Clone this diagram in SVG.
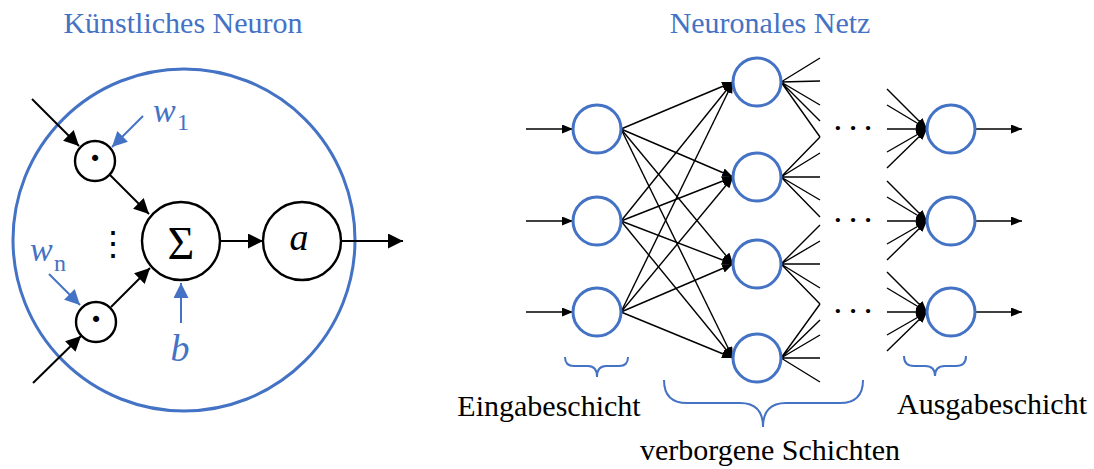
<svg xmlns="http://www.w3.org/2000/svg" width="1094" height="469" viewBox="0 0 1094 469">
<style>
.blue{fill:none;stroke:#4472C4;stroke-width:3}
.w{fill:#fff;stroke:#4472C4;stroke-width:3}
.bw{fill:#fff;stroke:#000;stroke-width:2.4}
.c{stroke:#000;stroke-width:1.4;fill:none}
.cb{stroke:#000;stroke-width:2;fill:none}
.cbl{stroke:#4472C4;stroke-width:2;fill:none}
.t{font-family:"Liberation Serif","Times New Roman",serif}
.tb{fill:#4472C4}
.brace{fill:none;stroke:#4472C4;stroke-width:2}
</style>
<defs>
<marker id="ab" markerUnits="userSpaceOnUse" markerWidth="16" markerHeight="16" refX="15" refY="7.5" orient="auto"><path d="M0,0 L15,7.5 L0,15 z" fill="#000"/></marker>
<marker id="abb" markerUnits="userSpaceOnUse" markerWidth="16" markerHeight="16" refX="15" refY="7.5" orient="auto"><path d="M0,0 L15,7.5 L0,15 z" fill="#4472C4"/></marker>
<marker id="as" markerUnits="userSpaceOnUse" markerWidth="12" markerHeight="10" refX="11" refY="4.5" orient="auto"><path d="M0,0 L11,4.5 L0,9 z" fill="#000"/></marker>
</defs>

<text class="t tb" x="183" y="33" text-anchor="middle" style="font-size:30px">Künstliches Neuron</text>
<text class="t tb" x="770" y="33" text-anchor="middle" style="font-size:30px">Neuronales Netz</text>

<g id="neuron">
<circle class="blue" cx="184" cy="240" r="171"/>
</g>

<g id="connectors-left">
<line class="cb" x1="32" y1="99" x2="79" y2="146" marker-end="url(#ab)"/>
<line class="cb" x1="33" y1="383" x2="81" y2="336" marker-end="url(#ab)"/>
<line class="cb" x1="110" y1="175" x2="149" y2="214" marker-end="url(#ab)"/>
<line class="cb" x1="111" y1="307" x2="150" y2="268" marker-end="url(#ab)"/>
<line class="cb" x1="220" y1="241" x2="263" y2="241" marker-end="url(#ab)"/>
<line class="cb" x1="341" y1="241" x2="403" y2="241" marker-end="url(#ab)"/>
<line class="cbl" x1="143" y1="116" x2="112" y2="147" marker-end="url(#abb)"/>
<line class="cbl" x1="49" y1="274" x2="80" y2="305" marker-end="url(#abb)"/>
<line class="cbl" x1="181" y1="323" x2="181" y2="283" marker-end="url(#abb)"/>
</g>

<g id="mult1"><circle class="bw" cx="95" cy="161" r="20"/><text class="t" x="95" y="171" text-anchor="middle" style="font-size:38px;font-weight:bold">·</text></g>
<g id="multn"><circle class="bw" cx="96" cy="322" r="20"/><text class="t" x="96" y="332" text-anchor="middle" style="font-size:38px;font-weight:bold">·</text></g>
<g id="sum"><circle class="bw" cx="181" cy="241" r="39"/><text class="t" x="181" y="259" text-anchor="middle" style="font-size:46px">Σ</text></g>
<g id="act"><circle class="bw" cx="302" cy="241" r="39"/><text class="t" x="299" y="250" text-anchor="middle" style="font-size:38px;font-style:italic">a</text></g>
<text class="t" x="113" y="255" text-anchor="middle" style="font-size:34px">⋮</text>
<g id="w1"><text class="t tb" x="153" y="122" style="font-size:34px;font-style:italic">w</text><text class="t tb" x="177" y="130" style="font-size:24px">1</text></g>
<g id="wn"><text class="t tb" x="30" y="261" style="font-size:34px;font-style:italic">w</text><text class="t tb" x="54" y="271" style="font-size:24px">n</text></g>
<g id="bias"><text class="t tb" x="180" y="361" text-anchor="middle" style="font-size:38px;font-style:italic">b</text></g>

<g id="connectors-net">
<line class="c" x1="526" y1="129" x2="573" y2="129" marker-end="url(#as)"/>
<line class="c" x1="526" y1="221" x2="573" y2="221" marker-end="url(#as)"/>
<line class="c" x1="526" y1="312" x2="573" y2="312" marker-end="url(#as)"/>

<line class="c" x1="621" y1="129" x2="733" y2="82" marker-end="url(#as)"/>
<line class="c" x1="621" y1="129" x2="733" y2="177" marker-end="url(#as)"/>
<line class="c" x1="621" y1="129" x2="733" y2="264" marker-end="url(#as)"/>
<line class="c" x1="621" y1="129" x2="733" y2="358" marker-end="url(#as)"/>
<line class="c" x1="621" y1="221" x2="733" y2="82" marker-end="url(#as)"/>
<line class="c" x1="621" y1="221" x2="733" y2="177" marker-end="url(#as)"/>
<line class="c" x1="621" y1="221" x2="733" y2="264" marker-end="url(#as)"/>
<line class="c" x1="621" y1="221" x2="733" y2="358" marker-end="url(#as)"/>
<line class="c" x1="621" y1="312" x2="733" y2="82" marker-end="url(#as)"/>
<line class="c" x1="621" y1="312" x2="733" y2="177" marker-end="url(#as)"/>
<line class="c" x1="621" y1="312" x2="733" y2="264" marker-end="url(#as)"/>
<line class="c" x1="621" y1="312" x2="733" y2="358" marker-end="url(#as)"/>

<path class="c" d="M781,82 L820,58 M781,82 L820,81 M781,82 L820,105 M781,82 L820,121 M781,82 L820,137"/>
<path class="c" d="M781,177 L820,137 M781,177 L820,153 M781,177 L820,177 M781,177 L820,200 M781,177 L820,217"/>
<path class="c" d="M781,264 L820,225 M781,264 L820,241 M781,264 L820,264 M781,264 L820,288 M781,264 L820,304"/>
<path class="c" d="M781,358 L820,304 M781,358 L820,320 M781,358 L820,335 M781,358 L820,358 M781,358 L820,382"/>

<line class="c" x1="887" y1="89" x2="927" y2="129" marker-end="url(#as)"/>
<line class="c" x1="887" y1="105" x2="927" y2="129" marker-end="url(#as)"/>
<line class="c" x1="887" y1="129" x2="927" y2="129" marker-end="url(#as)"/>
<line class="c" x1="887" y1="152" x2="927" y2="129" marker-end="url(#as)"/>
<line class="c" x1="887" y1="168" x2="927" y2="129" marker-end="url(#as)"/>
<line class="c" x1="887" y1="181" x2="927" y2="221" marker-end="url(#as)"/>
<line class="c" x1="887" y1="197" x2="927" y2="221" marker-end="url(#as)"/>
<line class="c" x1="887" y1="221" x2="927" y2="221" marker-end="url(#as)"/>
<line class="c" x1="887" y1="244" x2="927" y2="221" marker-end="url(#as)"/>
<line class="c" x1="887" y1="260" x2="927" y2="221" marker-end="url(#as)"/>
<line class="c" x1="887" y1="272" x2="927" y2="312" marker-end="url(#as)"/>
<line class="c" x1="887" y1="288" x2="927" y2="312" marker-end="url(#as)"/>
<line class="c" x1="887" y1="312" x2="927" y2="312" marker-end="url(#as)"/>
<line class="c" x1="887" y1="335" x2="927" y2="312" marker-end="url(#as)"/>
<line class="c" x1="887" y1="351" x2="927" y2="312" marker-end="url(#as)"/>

<line class="c" x1="975" y1="129" x2="1022" y2="129" marker-end="url(#as)"/>
<line class="c" x1="975" y1="221" x2="1022" y2="221" marker-end="url(#as)"/>
<line class="c" x1="975" y1="312" x2="1022" y2="312" marker-end="url(#as)"/>
</g>

<g id="in1"><circle class="w" cx="597" cy="129" r="24"/></g>
<g id="in2"><circle class="w" cx="597" cy="221" r="24"/></g>
<g id="in3"><circle class="w" cx="597" cy="312" r="24"/></g>
<g id="h1"><circle class="w" cx="757" cy="82" r="24"/></g>
<g id="h2"><circle class="w" cx="757" cy="177" r="24"/></g>
<g id="h3"><circle class="w" cx="757" cy="264" r="24"/></g>
<g id="h4"><circle class="w" cx="757" cy="358" r="24"/></g>
<g id="out1"><circle class="w" cx="951" cy="129" r="24"/></g>
<g id="out2"><circle class="w" cx="951" cy="221" r="24"/></g>
<g id="out3"><circle class="w" cx="951" cy="312" r="24"/></g>

<text class="t" x="853" y="136" text-anchor="middle" style="font-size:26px;font-weight:bold">· · ·</text>
<text class="t" x="853" y="228" text-anchor="middle" style="font-size:26px;font-weight:bold">· · ·</text>
<text class="t" x="853" y="319" text-anchor="middle" style="font-size:26px;font-weight:bold">· · ·</text>

<g id="braces">
<path class="brace" d="M565,357 Q565,366 574,366 L588,366 Q597,366 597,377 Q597,366 606,366 L619,366 Q628,366 628,357"/>
<path class="brace" d="M664,380 Q664,403 687,403 L740,403 Q763,403 763,427 Q763,403 786,403 L840,403 Q863,403 863,380"/>
<path class="brace" d="M904,356 Q904,366 914,366 L925,366 Q935,366 935,376 Q935,366 945,366 L956,366 Q966,366 966,356"/>
</g>

<text class="t" x="549" y="416" text-anchor="middle" style="font-size:30px">Eingabeschicht</text>
<text class="t" x="992" y="414" text-anchor="middle" style="font-size:30px">Ausgabeschicht</text>
<text class="t" x="770" y="460" text-anchor="middle" style="font-size:30px">verborgene Schichten</text>
</svg>
